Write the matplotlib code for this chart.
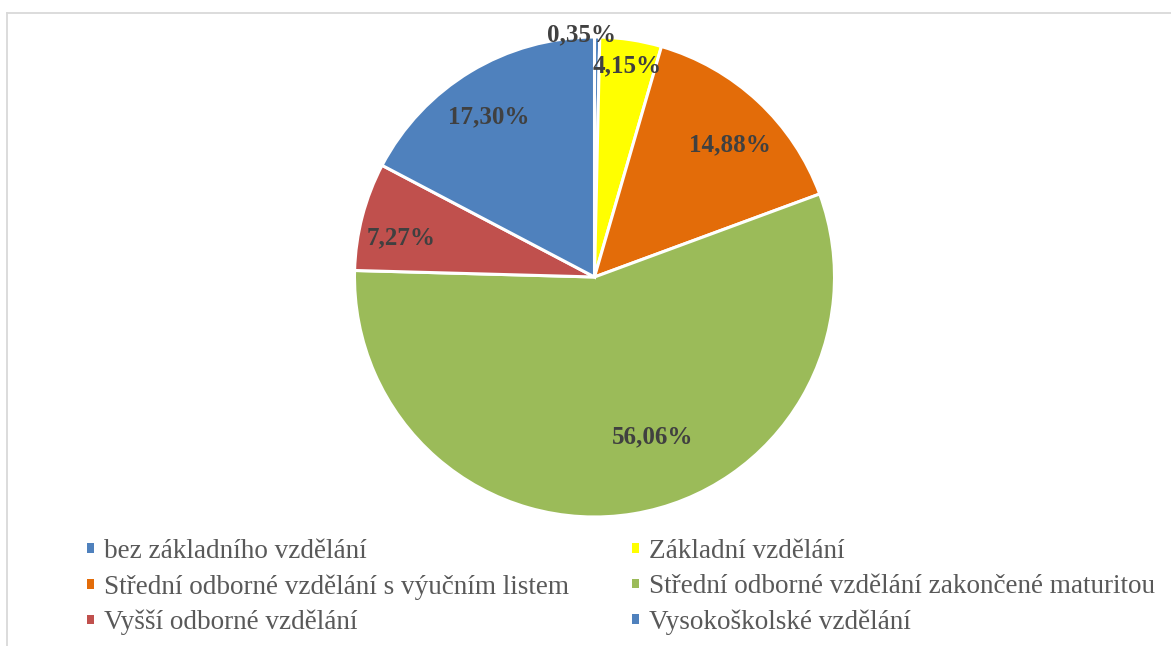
import numpy as np
import matplotlib.pyplot as plt
from matplotlib.lines import Line2D
from matplotlib.patches import Patch

plt.rcParams['font.family'] = ['Liberation Serif', 'DejaVu Serif']

categories = ['bez základního vzdělání', 'Základní vzdělání',
              'Střední odborné vzdělání s výučním listem',
              'Střední odborné vzdělání zakončené maturitou',
              'Vyšší odborné vzdělání', 'Vysokoškolské vzdělání']
shares = [0.35, 4.15, 14.88, 56.06, 7.27, 17.30]
labels = ['0,35%', '4,15%', '14,88%', '56,06%', '7,27%', '17,30%']

colors = ['#4F81BD', '#FFFF00', '#E36C09', '#9BBB59', '#C0504D', '#4F81BD']
# label placement: distance from centre (fraction of radius) and angle tweak
lab_r = [1.01, 0.89, 0.79, 0.71, 0.82, 0.80]
lab_da = [3.6, 0, -2.7, 10.7, 3.2, 2.2]

W, H = 1171, 646
fig = plt.figure(figsize=(W / 100, H / 100), dpi=100)

# chart frame (only top and left sides visible)
fig.add_artist(Line2D([7 / W, 1], [1 - 13 / H, 1 - 13 / H], color='#D9D9D9', lw=1.3))
fig.add_artist(Line2D([7 / W, 7 / W], [0, 1 - 13 / H], color='#D9D9D9', lw=1.3))

cx, cy, R = 594.5, 277, 240
ax = fig.add_axes([(cx - R) / W, (H - cy - R) / H, 2 * R / W, 2 * R / H])
wedges, _ = ax.pie(shares, colors=colors, startangle=90, counterclock=False,
                   radius=1, wedgeprops=dict(edgecolor='white', linewidth=2.2))
ax.set_xlim(-1, 1)
ax.set_ylim(-1, 1)
ax.set_aspect('equal')
ax.axis('off')

for w, lab, r, da in zip(wedges, labels, lab_r, lab_da):
    ang = np.deg2rad((w.theta1 + w.theta2) / 2 + da)
    ax.text(r * np.cos(ang), r * np.sin(ang), lab, ha='center', va='center',
            fontsize=18, fontweight='bold', color='#404040')

order = [0, 2, 4, 1, 3, 5]
handles = [Patch(facecolor=colors[i], edgecolor='none') for i in order]
fig.legend(handles, [categories[i] for i in order], ncol=2,
           loc='upper left', bbox_to_anchor=(87 / W, 1 - 539 / H),
           frameon=False, fontsize=19.5, labelcolor='#595959',
           handlelength=0.24, handleheight=0.16, handletextpad=0.37,
           columnspacing=2.35, labelspacing=0.375, borderaxespad=0, borderpad=0)

fig.savefig('out.png', dpi=100)
